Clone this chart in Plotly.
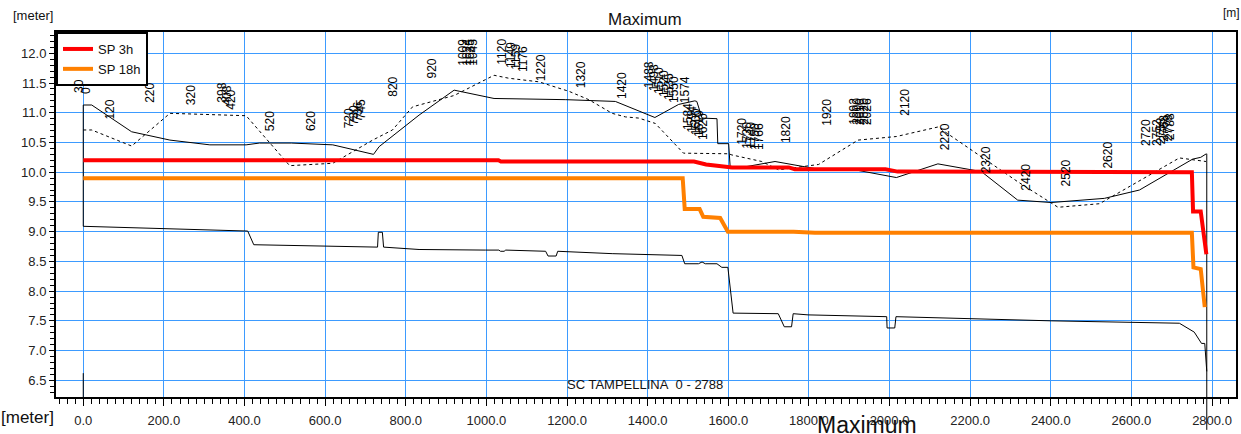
import plotly.graph_objects as go

# ---------------- data ----------------
branch_label = "SC TAMPELLINA\u00a0\u00a00 - 2788"

# left bank level (solid black)
bank_left_x = [0, 21, 120, 215, 314, 404, 437, 516, 619, 720, 734, 833, 920, 1019, 1197, 1320, 1418,
               1477, 1517, 1522, 1535, 1572, 1574, 1601, 1605, 1625, 1716, 1782, 1824, 1922, 2017,
               2120, 2228, 2318, 2401, 2533, 2620, 2752, 2772, 2786]
bank_left_y = [11.13, 11.13, 10.68, 10.54, 10.46, 10.46, 10.49, 10.49, 10.46, 10.30, 10.43, 10.96, 11.38,
               11.24, 11.22, 11.19, 10.92, 11.14, 11.20, 11.19, 10.91, 10.90, 10.48, 10.48, 10.06, 10.07,
               10.18, 10.10, 10.05, 10.03, 9.91, 10.14, 10.01, 9.53, 9.49, 9.56, 9.70, 10.22, 10.25, 10.31]

# right bank level (dotted black)
bank_right_x = [0, 21, 120, 215, 404, 512, 619, 718, 767, 817, 920, 1019, 1056, 1130, 1205, 1254, 1312,
                1345, 1378, 1419, 1489, 1601, 1609, 1683, 1725, 1782, 1824, 1922, 2017, 2120, 2318,
                2418, 2521, 2719, 2748, 2785]
bank_right_y = [10.71, 10.71, 10.44, 10.99, 10.95, 10.11, 10.15, 10.54, 10.71, 11.10, 11.29, 11.63, 11.58,
                11.52, 11.36, 11.22, 10.99, 10.93, 10.91, 10.82, 10.32, 10.31, 10.29, 10.18, 10.04, 10.09,
                10.13, 10.54, 10.60, 10.76, 9.84, 9.41, 9.47, 10.24, 10.21, 10.18]

# bed level (solid black)
bed_x = [0, 408, 423, 730, 732, 742, 745, 833, 998, 1031, 1035, 1044, 1048, 1147, 1153, 1173, 1177,
         1312, 1485, 1492, 1526, 1535, 1543, 1572, 1584, 1599, 1612, 1724, 1739, 1757, 1761, 1798,
         1993, 1994, 2013, 2016, 2401, 2719, 2756, 2774, 2782, 2787]
bed_y = [9.09, 9.01, 8.78, 8.74, 8.99, 8.99, 8.74, 8.70, 8.69, 8.69, 8.67, 8.67, 8.69, 8.67, 8.59, 8.59,
         8.67, 8.63, 8.60, 8.46, 8.46, 8.49, 8.46, 8.46, 8.40, 8.40, 7.63, 7.62, 7.40, 7.40, 7.62, 7.60,
         7.57, 7.38, 7.38, 7.57, 7.50, 7.46, 7.31, 7.12, 7.12, 6.65]

# branch end markers
end_x = [0, 0, None, 0, 0, None, 2787, 2787]
end_y = [11.13, 9.09, None, 6.62, 6.2, None, 10.31, 6.2]
branch_end_chainage = 2787

# water levels
sp3_x = [0, 1030, 1036, 1515, 1545, 1600, 1610, 1750, 1765, 1990, 2020, 2750, 2753, 2772, 2786]
sp3_y = [10.20, 10.20, 10.18, 10.18, 10.13, 10.10, 10.08, 10.08, 10.05, 10.05, 10.01, 10.00, 9.34, 9.34, 8.62]

sp18_x = [0, 1487, 1492, 1529, 1538, 1580, 1599, 1762, 1815, 2750, 2754, 2772, 2782]
sp18_y = [9.90, 9.90, 9.38, 9.38, 9.25, 9.23, 9.00, 9.00, 8.98, 8.98, 8.40, 8.37, 7.73]

# cross-section labels
sec_names = ["30", "0", "120", "220", "320", "398", "408", "420", "520", "620", "720", "730", "736", "745",
             "820", "920", "1009", "1024", "1035", "1045", "1120", "1149", "1159", "1176", "1220", "1320",
             "1420", "1488", "1498", "1510", "1520", "1535", "1550", "1574", "1584", "1594", "1600", "1610",
             "1620", "1720", "1730", "1740", "1750", "1766", "1820", "1920", "1992", "2000", "2010", "2020",
             "2026", "2120", "2220", "2320", "2420", "2520", "2620", "2720", "2752", "2758", "2768", "2778",
             "2788"]
sec_label_x = [-10.6, 6.7, 66.1, 165.1, 265.8, 343.3, 355.7, 368.1, 463.9, 565.3, 660.1, 672.5, 681.2, 689.9,
               769.1, 866.3, 942.3, 952.2, 959.7, 967.1, 1039.6, 1061.1, 1073.5, 1090.8, 1134.7, 1233.7,
               1336.6, 1402.2, 1414.6, 1427.0, 1439.4, 1451.7, 1464.1, 1491.8, 1501.7, 1511.6, 1519.0, 1528.9,
               1538.8, 1635.4, 1647.8, 1657.7, 1667.6, 1677.5, 1745.0, 1844.0, 1910.1, 1917.6, 1926.2, 1934.9,
               1943.1, 2036.4, 2139.6, 2238.6, 2336.6, 2438.1, 2539.6, 2637.9, 2665.1, 2672.5, 2681.2, 2689.9,
               2697.3]
sec_label_y = [11.30, 11.29, 10.85, 11.13, 11.10, 11.13, 11.08, 11.01, 10.66, 10.66, 10.71, 10.76, 10.81, 10.86,
               11.24, 11.55, 11.75, 11.75, 11.75, 11.75, 11.78, 11.72, 11.69, 11.65, 11.50, 11.38,
               11.19, 11.38, 11.33, 11.28, 11.23, 11.18, 11.13, 11.13, 10.68, 10.63, 10.59, 10.56,
               10.51, 10.43, 10.36, 10.36, 10.34, 10.34, 10.46, 10.75, 10.76, 10.76, 10.76, 10.76,
               10.76, 10.91, 10.34, 9.95, 9.65, 9.72, 10.02, 10.41, 10.41, 10.44, 10.47, 10.49,
               10.51]

x_tickvals = list(range(0, 2801, 200))
y_tickvals = [6.5 + 0.5 * i for i in range(12)]

# ---------------- layout geometry ----------------
W, H = 1241, 434
ML, MR, MT, MB = 56, 3, 32, 37


def pxx(px):
    return (px - ML) / (W - ML - MR)


def pxy(py):
    return (H - MB - py) / (H - MT - MB)


FONT = "Arial, Liberation Sans, sans-serif"

fig = go.Figure()
fig.add_trace(go.Scatter(x=bank_left_x, y=bank_left_y, mode="lines",
                         line=dict(color="black", width=1), showlegend=False, hoverinfo="skip"))
fig.add_trace(go.Scatter(x=bank_right_x, y=bank_right_y, mode="lines",
                         line=dict(color="black", width=1, dash="dot"), showlegend=False, hoverinfo="skip"))
fig.add_trace(go.Scatter(x=bed_x, y=bed_y, mode="lines",
                         line=dict(color="black", width=1), showlegend=False, hoverinfo="skip"))
fig.add_trace(go.Scatter(x=end_x, y=end_y, mode="lines",
                         line=dict(color="black", width=1), showlegend=False, hoverinfo="skip"))
fig.add_trace(go.Scatter(x=sp18_x, y=sp18_y, mode="lines", name="SP 18h", legendrank=2,
                         line=dict(color="#ff8000", width=4)))
fig.add_trace(go.Scatter(x=sp3_x, y=sp3_y, mode="lines", name="SP 3h", legendrank=1,
                         line=dict(color="#ff0000", width=4)))

annotations = []
for name, lx, ly in zip(sec_names, sec_label_x, sec_label_y):
    annotations.append(dict(x=lx, y=ly, xref="x", yref="y", text=name, textangle=-90,
                            showarrow=False, xanchor="center", yanchor="bottom",
                            font=dict(family=FONT, size=12, color="black")))

annotations += [
    dict(x=pxx(33), y=pxy(16), xref="paper", yref="paper", text="[meter]", showarrow=False,
         xanchor="center", yanchor="middle", font=dict(family=FONT, size=13, color="#111")),
    dict(x=pxx(646), y=pxy(19), xref="paper", yref="paper", text="Maximum", showarrow=False,
         xanchor="center", yanchor="middle", font=dict(family=FONT, size=17, color="#111")),
    dict(x=pxx(1233), y=pxy(13), xref="paper", yref="paper", text="[m]", showarrow=False,
         xanchor="center", yanchor="middle", font=dict(family=FONT, size=12, color="#111")),
    dict(x=pxx(646), y=pxy(384), xref="paper", yref="paper", text=branch_label, showarrow=False,
         xanchor="center", yanchor="middle", font=dict(family=FONT, size=13, color="#111")),
    dict(x=pxx(27), y=pxy(417), xref="paper", yref="paper", text="[meter]", showarrow=False,
         xanchor="center", yanchor="middle", font=dict(family=FONT, size=17, color="#111")),
    dict(x=pxx(868), y=pxy(425), xref="paper", yref="paper", text="Maximum", showarrow=False,
         xanchor="center", yanchor="middle", font=dict(family=FONT, size=23, color="#111")),
    dict(x=pxx(1229), y=pxy(440), xref="paper", yref="paper", text="[meter]", showarrow=False,
         xanchor="left", yanchor="middle", font=dict(family=FONT, size=17, color="#111")),
]

grid_color = "#3d9bff"
fig.update_layout(
    width=W, height=H,
    margin=dict(l=ML, r=MR, t=MT, b=MB, pad=0),
    paper_bgcolor="white", plot_bgcolor="white",
    font=dict(family=FONT, size=13, color="#222"),
    showlegend=True,
    legend=dict(x=0, y=1, xanchor="left", yanchor="top", bgcolor="white",
                bordercolor="black", borderwidth=2, font=dict(family=FONT, size=13, color="#111"),
                tracegroupgap=0),
    annotations=annotations,
    shapes=[dict(type="line", xref="x", yref="paper", x0=branch_end_chainage, x1=branch_end_chainage,
                 y0=0, y1=-0.09, line=dict(color="black", width=1))],
    xaxis=dict(range=[-67.6, 2859.5], tickvals=x_tickvals, tickformat=".1f",
               showgrid=True, gridcolor=grid_color, gridwidth=1, zeroline=False,
               showline=True, linecolor="black", linewidth=2, mirror=True,
               ticks="outside", ticklen=7, tickcolor="black", tickwidth=1,
               ticklabelstandoff=3,
               minor=dict(tick0=0, dtick=20, ticks="outside", ticklen=5, tickcolor="black",
                          tickwidth=1, showgrid=False),
               tickfont=dict(family=FONT, size=13, color="#222")),
    yaxis=dict(range=[6.219, 12.358], tickvals=y_tickvals, tickformat=".1f",
               showgrid=True, gridcolor=grid_color, gridwidth=1, zeroline=False,
               showline=True, linecolor="black", linewidth=2, mirror=True,
               ticks="outside", ticklen=5, tickcolor="black", tickwidth=1,
               minor=dict(tick0=0, dtick=0.1, ticks="outside", ticklen=4, tickcolor="black",
                          tickwidth=1, showgrid=False),
               tickfont=dict(family=FONT, size=13, color="#222")),
)

fig.write_html("out.html")
